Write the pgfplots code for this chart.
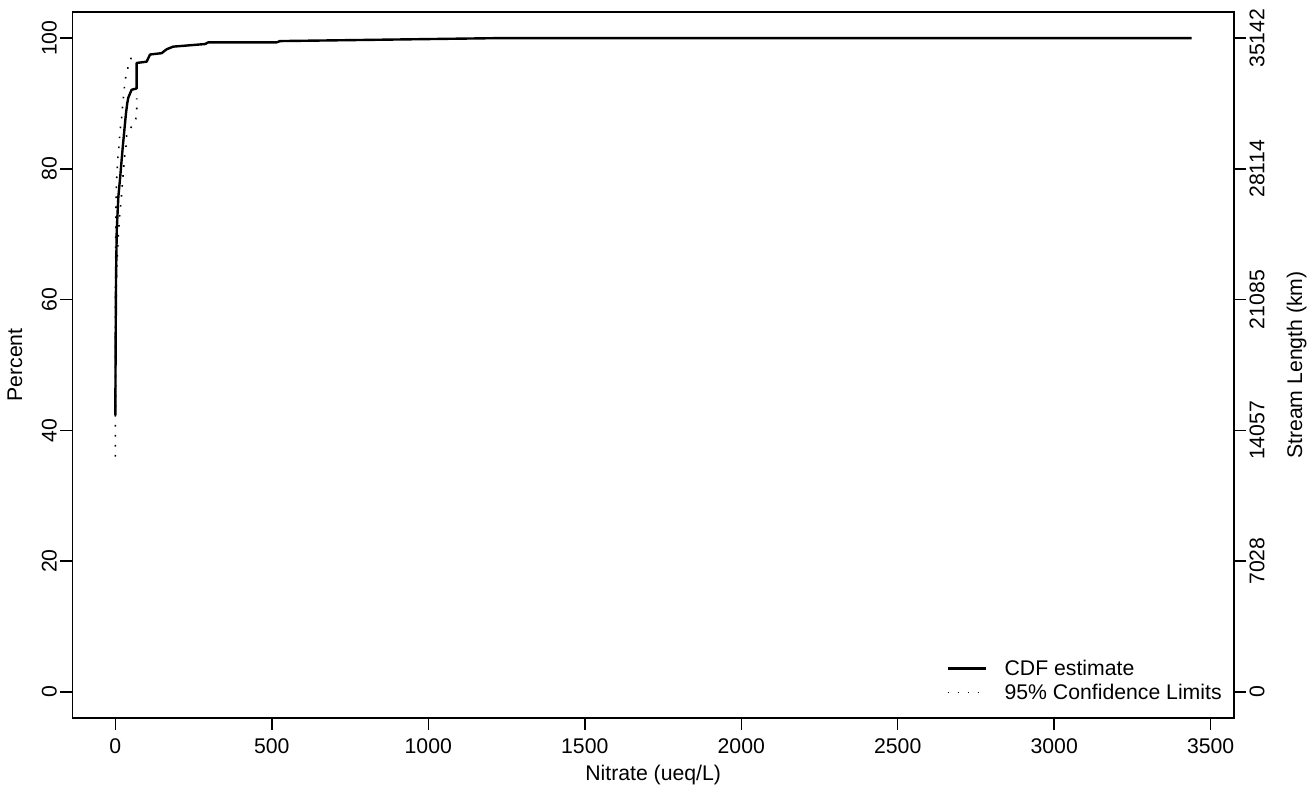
\documentclass[border=0pt]{standalone}
\usepackage{pgfplots}
\pgfplotsset{compat=1.18}
\usepackage{fontspec}
\setmainfont{Liberation Sans}
\newcommand{\rf}{\fontsize{21.3}{25}\selectfont}
\begin{document}
\begin{tikzpicture}[x=1bp,y=1bp]
\pgfplotsset{
  common/.style={
    at={(72.3bp,68bp)}, anchor=south west,
    scale only axis, width=1161.7bp, height=706bp,
    xmin=-137.5, xmax=3574.5, ymin=-4, ymax=104,
    axis line style={line width=1.5bp},
    major tick style={line width=1.5bp, black},
    major tick length=12bp, tick align=outside,
    tick label style={font=\rf},
    label style={font=\rf},
    /pgf/number format/.cd, set thousands separator={}, assume math mode=true,
  }
}
\begin{axis}[common,
  xtick={0,500,...,3500}, ytick={0,20,...,100},
  xtick pos=lower, ytick pos=left,
  xticklabel style={yshift=-5bp},
  yticklabel style={rotate=90, anchor=south},
  xlabel={Nitrate (ueq/L)}, ylabel={Percent},
  xlabel style={at={(axis description cs:0.5,-0.0807)}, anchor=center},
  ylabel style={at={(axis description cs:-0.0493,0.5)}, anchor=center, rotate=0},
  legend style={draw=none, fill=none, font=\rf, at={(axis cs:2655,-1.75)}, anchor=south west,
    legend cell align=left, row sep=3.5bp, inner sep=0pt},
  legend image code/.code={\draw[#1] (0bp,0bp) -- (38bp,0bp); \path[draw=none] (0bp,0bp) -- (55bp,0bp);},
]
\addplot[black, line width=2.4bp, line join=round] coordinates {
(0,42.3) (0.6,49) (1.2,55.3) (2.2,63) (4.5,70.6) (9.6,75.7) (16,79) (20.4,81.5)
(24,83.5) (29,86) (34,88.5) (38,90) (41.5,90.9) (52,92.1) (68,92.3) (68,96.2)
(100,96.4) (111,97.5) (148,97.7) (164,98.3) (185,98.7) (287,99.1) (297,99.36)
(516,99.36) (526,99.55) (1220,100) (3439,100)};
\addlegendentry{CDF estimate}
\addplot[black, line width=1.6bp, dash pattern=on 1.6bp off 8.4bp] coordinates {
(0,36) (0.3,42) (1,50) (2,58) (4,64) (7,67.5) (8.6,69) (10.9,70.6) (12.8,72.3)
(16,73.9) (19,75.4) (21.4,77.1) (24,78.6) (26.8,80.3) (30,82) (34.2,83.5)
(36.4,85.1) (51,86.4) (65.2,87.6) (68.4,89.1) (68.4,90.8)};
\addlegendentry{95\% Confidence Limits}
\addplot[black, line width=1.6bp, dash pattern=on 1.6bp off 8.4bp, forget plot] coordinates {
(0,48) (0.5,60) (1.2,68) (2.2,75.4) (3.2,77.1) (4.5,78.6) (6.4,80.3) (8.6,82)
(11.8,83.5) (14,85.2) (17.3,86.8) (21.4,88.3) (23.6,90) (27.8,91.7) (30,93.3)
(36.4,94.7) (43.8,96.2) (50,96.9) (66,97.2)};
\end{axis}
\begin{axis}[common,
  axis x line=none, axis y line*=right,
  ytick={0,20,...,100},
  yticklabels={0,7028,14057,21085,28114,35142},
  yticklabel style={rotate=90, anchor=north},
  ylabel={Stream Length (km)},
  ylabel style={at={(axis description cs:1.054,0.5)}, anchor=center, rotate=0},
]
\addplot[draw=none] coordinates {(0,0)};
\end{axis}
\pgfresetboundingbox
\useasboundingbox (0bp,0bp) rectangle (1311bp,786bp);
\end{tikzpicture}
\end{document}
